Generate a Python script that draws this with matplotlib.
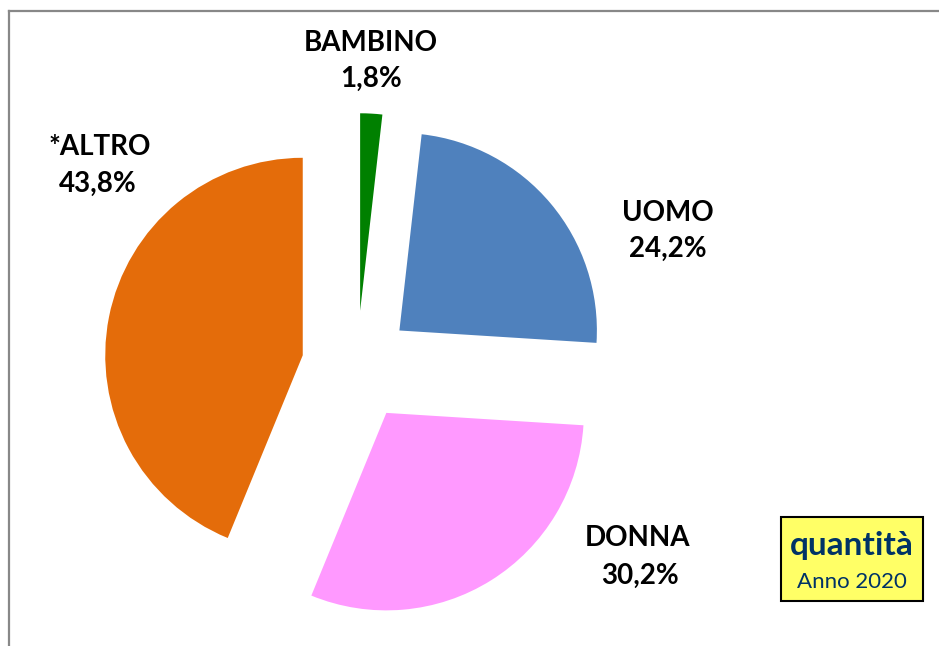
import matplotlib
matplotlib.use("Agg")
import matplotlib.pyplot as plt
from matplotlib.patches import Rectangle
from matplotlib.lines import Line2D

categories = ["BAMBINO", "UOMO", "DONNA", "*ALTRO"]
values = [1.8, 24.2, 30.2, 43.8]
colors = ["#008000", "#4F81BD", "#FF99FF", "#E46C0A"]
box_title = "quantità"
box_sub = "Anno 2020"

W, H = 939, 646
fig = plt.figure(figsize=(W / 100, H / 100), dpi=100)
ax = fig.add_axes([0, 0, 1, 1])

R = 197.5  # pixels per data unit
cx, cy = 357.0, 366.0  # pie centre in pixel coords (from top-left)

ax.pie(values, colors=colors, startangle=90, counterclock=False,
       explode=[0.28] * len(values), radius=1.0, center=(0, 0),
       wedgeprops=dict(linewidth=0), frame=False)
ax.set_xlim(-cx / R, (W - cx) / R)
ax.set_ylim(-(H - cy) / R, cy / R)
ax.set_aspect("equal")
ax.axis("off")

def px(x, y):
    return ((x - cx) / R, (cy - y) / R)

font = "Lato"
label_pos = {"BAMBINO": [(371, 43), (371, 79)],
             "UOMO": [(668, 213), (668, 249)],
             "DONNA": [(638, 538), (640, 576)],
             "*ALTRO": [(100, 147), (98, 184)]}
for cat, val in zip(categories, values):
    (x1, y1), (x2, y2) = label_pos[cat]
    ax.text(*px(x1, y1), cat, ha="center", va="center", fontsize=20,
            fontweight="bold", family=font, color="black")
    ax.text(*px(x2, y2), f"{val:.1f}%".replace(".", ","), ha="center",
            va="center", fontsize=20, fontweight="bold", family=font,
            color="black")

# border (left & top, clipped at right/bottom)
fig.add_artist(Line2D([8.5 / W, 8.5 / W], [0, 1 - 11 / H], color="#888888",
                      lw=1.6, transform=fig.transFigure))
fig.add_artist(Line2D([8.5 / W, 1], [1 - 11 / H, 1 - 11 / H], color="#888888",
                      lw=1.6, transform=fig.transFigure))

# box
bx0, by0, bx1, by1 = 781, 517, 923, 601
fig.add_artist(Rectangle((bx0 / W, 1 - by1 / H), (bx1 - bx0) / W, (by1 - by0) / H,
                         transform=fig.transFigure, facecolor="#FFFF66",
                         edgecolor="black", lw=1.5))
fig.text(852 / W, 1 - 545 / H, box_title, ha="center", va="center", fontsize=24,
         fontweight="bold", family=font, color="#003366")
fig.text(852 / W, 1 - 582 / H, box_sub, ha="center", va="center", fontsize=16,
         family=font, color="#003366")

fig.savefig("out.png", dpi=100)
